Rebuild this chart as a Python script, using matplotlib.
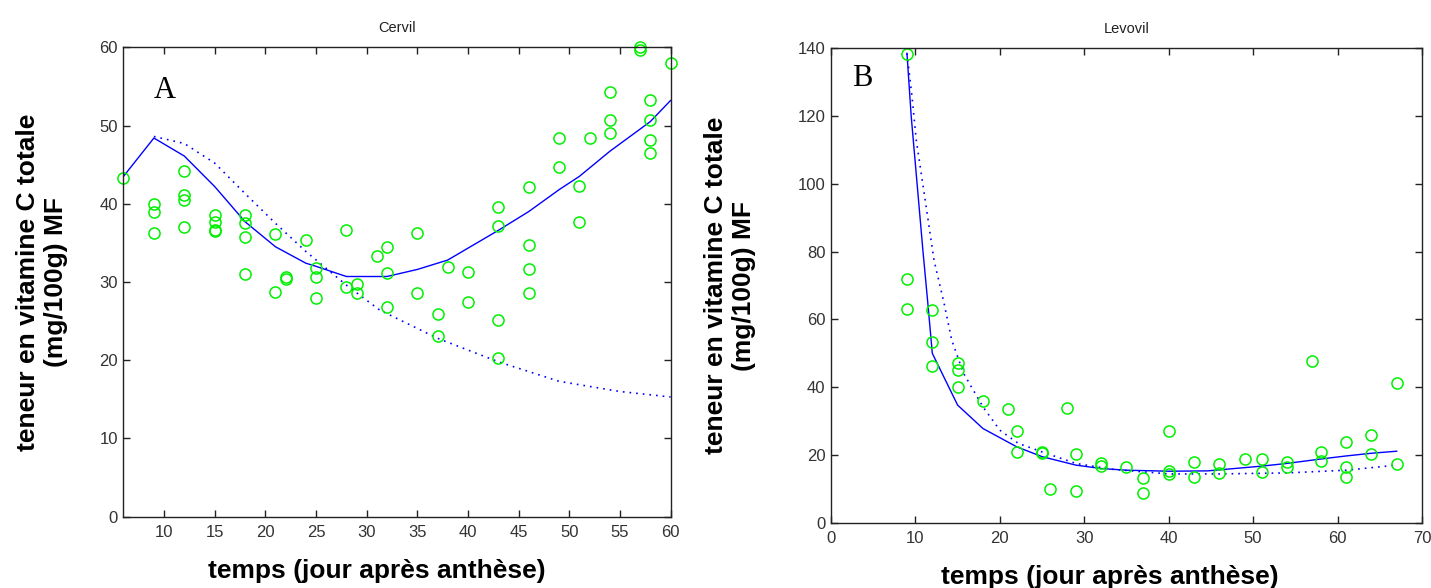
import matplotlib.pyplot as plt
import numpy as np

# Cervil : mesures (jour, teneur)
cervil_x = [6, 9, 9, 9, 12, 12, 12, 12, 15, 15, 15, 15, 18, 18, 18, 18,
            21, 21, 22, 22, 24, 25, 25, 25, 28, 28, 29, 29, 31, 32, 32, 32,
            35, 35, 37, 37, 38, 40, 40, 43, 43, 43, 43, 46, 46, 46, 46,
            49, 49, 51, 51, 52, 54, 54, 54, 57, 57, 58, 58, 58, 58, 60]
cervil_y = [43.3, 40.0, 39.0, 36.3, 44.2, 41.1, 40.5, 37.0, 38.6, 37.7, 36.7, 36.5,
            38.6, 37.6, 35.7, 31.0, 36.1, 28.7, 30.6, 30.4, 35.4, 31.8, 30.6, 28.0,
            36.6, 29.4, 29.8, 28.6, 33.3, 34.5, 31.2, 26.8, 36.3, 28.6, 25.9, 23.1,
            31.9, 31.3, 27.5, 39.6, 37.2, 25.2, 20.3, 42.1, 34.7, 31.7, 28.6,
            48.4, 44.7, 42.3, 37.7, 48.4, 54.3, 50.7, 49.1, 60.0, 59.7,
            53.3, 50.7, 48.2, 46.5, 58.0]

# Cervil : modeles
cervil_fit_x = [6, 9, 12, 15, 18, 21, 24, 25, 28, 32, 35, 38, 43, 46, 49, 51, 54, 58, 60]
cervil_fit_y = [43.5, 48.4, 46.1, 42.2, 37.7, 34.5, 32.4, 32.0, 30.7, 30.7, 31.6,
                32.8, 36.6, 39.0, 41.8, 43.5, 46.7, 50.5, 53.2]
cervil_dot_x = [9, 12, 15, 18, 21, 24, 28, 31.3, 37, 43, 49, 55, 60]
cervil_dot_y = [48.6, 47.7, 45.2, 41.3, 37.5, 33.9, 29.6, 26.4, 22.8, 19.8, 17.3, 16.0, 15.3]

# Levovil : mesures
levovil_x = [9, 9, 9, 12, 12, 12, 15, 15, 15, 18, 21, 22, 22, 25, 25, 26, 28, 29, 29,
             32, 32, 35, 37, 37, 40, 40, 40, 43, 43, 46, 46, 49, 51, 51, 54, 54,
             57, 58, 58, 61, 61, 61, 64, 64, 67, 67]
levovil_y = [138.3, 71.8, 63.0, 62.7, 53.2, 46.3, 47.2, 45.0, 40.1, 36.0, 33.5, 27.0,
             20.8, 20.8, 20.5, 10.1, 34.0, 20.2, 9.4, 17.7, 16.7, 16.5, 13.1, 8.7,
             27.0, 15.3, 14.4, 18.0, 13.6, 17.3, 14.6, 18.8, 18.8, 15.0, 17.8, 16.5,
             47.8, 20.9, 18.2, 23.7, 16.5, 13.6, 25.8, 20.3, 41.3, 17.2]

# Levovil : modeles
levovil_fit_x = [9, 9.5, 10.2, 10.9, 11.5, 12, 15, 18, 22, 25, 29, 32, 35, 40, 44.6,
                 51, 54, 58, 61, 64, 67]
levovil_fit_y = [138.5, 120, 100, 80, 64, 50, 34.7, 27.8, 22.4, 19.5, 17.0, 16.0, 15.5,
                 15.2, 15.3, 16.7, 17.5, 18.8, 19.7, 20.5, 21.1]
levovil_dot_x = [9, 9.6, 10.1, 11.1, 12.2, 13.4, 14.3, 15.7, 18, 20, 22.2, 25, 29,
                 33.2, 40, 46, 54, 61, 67]
levovil_dot_y = [138.5, 125.7, 112.9, 96.2, 77.5, 64.7, 53.9, 44.1, 34.2, 27.3, 23.4,
                 20.9, 17.5, 15.8, 14.4, 14.4, 14.7, 15.5, 17.0]

plt.rcParams['font.family'] = ['Liberation Sans', 'DejaVu Sans']

fig = plt.figure(figsize=(14.31, 5.88), dpi=100)
ax1 = fig.add_axes([0.0863, 0.1213, 0.3823, 0.7983])
ax2 = fig.add_axes([0.5807, 0.1110, 0.4130, 0.8069])

ylab = 'teneur en vitamine C totale\n(mg/100g) MF'
xlab = 'temps (jour après anthèse)'


def style(ax):
    ax.tick_params(direction='in', top=True, right=True, length=5, width=1,
                   labelsize=12, labelcolor='#333333', color='#222222')
    ax.tick_params(axis='y', pad=4)
    ax.tick_params(axis='x', pad=6)
    for s in ax.spines.values():
        s.set_color('#222222')
        s.set_linewidth(1)


blue = '#0000ff'
green = '#00f000'

ax1.plot(cervil_fit_x, cervil_fit_y, '-', color=blue, lw=1)
ax1.plot(cervil_dot_x, cervil_dot_y, color=blue, lw=1.2, dashes=(1, 3))
ax1.plot(cervil_x, cervil_y, 'o', mfc='none', mec=green, ms=8, mew=1.1, clip_on=False)
ax1.set_xlim(6, 60)
ax1.set_ylim(0, 60)
ax1.set_xticks(np.arange(10, 61, 5))
ax1.set_yticks(np.arange(0, 61, 10))
ax1.set_title('Cervil', fontsize=10.5, pad=11, color='#222222')
ax1.text(10.1, 54.5, 'A', family='Liberation Serif', fontsize=22, ha='center', va='center')
ax1.set_ylabel(ylab, fontsize=19, fontweight='bold')
ax1.set_xlabel(xlab, fontsize=19, fontweight='bold')
ax1.yaxis.set_label_coords(-0.1015, 0.5)
ax1.xaxis.set_label_coords(0.4625, -0.09)
style(ax1)

ax2.plot(levovil_fit_x, levovil_fit_y, '-', color=blue, lw=1)
ax2.plot(levovil_dot_x, levovil_dot_y, color=blue, lw=1.2, dashes=(1, 3))
ax2.plot(levovil_x, levovil_y, 'o', mfc='none', mec=green, ms=8, mew=1.1, clip_on=False)
ax2.set_xlim(0, 70)
ax2.set_ylim(0, 140)
ax2.set_xticks(np.arange(0, 71, 10))
ax2.set_yticks(np.arange(0, 141, 20))
ax2.set_title('Levovil', fontsize=10.5, pad=11, color='#222222')
ax2.text(3.7, 131.2, 'B', family='Liberation Serif', fontsize=22, ha='center', va='center')
ax2.set_ylabel(ylab, fontsize=19, fontweight='bold')
ax2.set_xlabel(xlab, fontsize=19, fontweight='bold')
ax2.yaxis.set_label_coords(-0.127, 0.5)
ax2.xaxis.set_label_coords(0.472, -0.09)
style(ax2)

fig.savefig('out.png', dpi=100)
